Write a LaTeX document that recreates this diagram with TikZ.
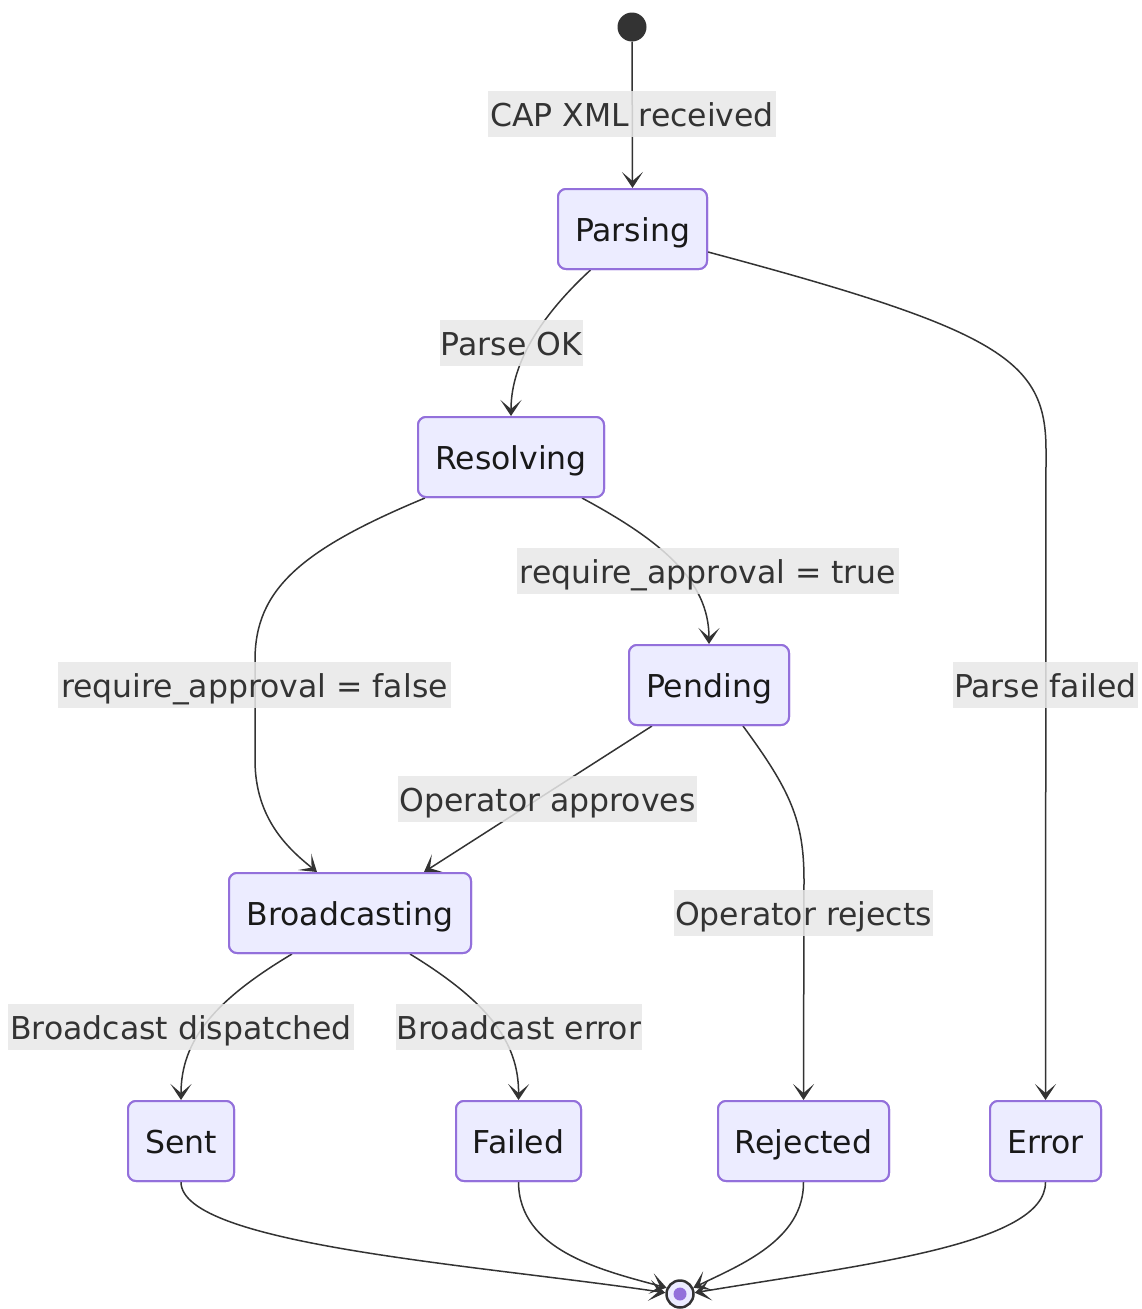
\documentclass[tikz,border=0pt]{standalone}
\usepackage{fontspec}
\setmainfont{DejaVu Sans}
\usetikzlibrary{arrows.meta,calc}
\definecolor{nodefill}{HTML}{ECECFF}
\definecolor{nodeline}{HTML}{9370DB}
\definecolor{edgecol}{HTML}{333333}
\definecolor{lblbg}{HTML}{E8E8E8}
\tikzset{
  state/.style={draw=nodeline, fill=nodefill, line width=2pt, rounded corners=8pt,
    inner sep=0pt, minimum height=80pt, text height=25pt, text depth=0pt,
    text=black!90, font=\fontsize{31.5}{36}\selectfont},
  lbl/.style={fill=lblbg, fill opacity=0.85, text opacity=1, inner sep=0pt,
    minimum height=46pt, text height=25pt, text depth=0pt,
    text=edgecol, font=\fontsize{31.5}{36}\selectfont},
  edge/.style={draw=edgecol, line width=1.5pt,
    -{Stealth[length=16pt,width=21pt,inset=9pt]}},
}
\begin{document}
\begin{tikzpicture}[x=1pt,y=-1pt]
\useasboundingbox (0,0) rectangle (1141,1309);
% nodes
\node[circle, fill=edgecol, minimum size=29pt, inner sep=0pt] (start) at (632,27) {};
\node[state, minimum width=149pt] (parsing) at (632.5,229) {Parsing};
\node[state, minimum width=186pt] (resolving) at (511,457) {Resolving};
\node[state, minimum width=160pt] (pending) at (709,685) {Pending};
\node[state, minimum width=242pt] (broad) at (350,913) {Broadcasting};
\node[state, minimum width=106pt] (sent) at (181,1141) {Sent};
\node[state, minimum width=125pt] (failed) at (518.5,1141) {Failed};
\node[state, minimum width=171pt] (rejected) at (803.5,1141) {Rejected};
\node[state, minimum width=111pt] (error) at (1045.5,1141) {Error};
\node[circle, draw=edgecol, line width=2.5pt, fill=nodefill, minimum size=27pt, inner sep=0pt] (endst) at (680,1294) {};
\node[circle, fill=nodeline, minimum size=13pt, inner sep=0pt] at (endst) {};
% edges
\draw[edge] (start) -- (parsing.north);
\draw[edge] ($(parsing.south)+(-42,0)$) .. controls (545,312) and (511,360) .. (resolving.north);
\draw[edge] ($(parsing.east)+(0,23)$) .. controls (1000,330) and (1046,360) .. (1046,450) -- (error.north);
\draw[edge] ($(resolving.south)+(71,0)$) .. controls (660,540) and (709,580) .. (pending.north);
\draw[edge] ($(resolving.south)+(-86,0)$) .. controls (300,550) and (255,590) .. (255,660) -- (255,760) .. controls (255,820) and (290,850) .. ($(broad.north)+(-33,0)$);
\draw[edge] ($(pending.south)+(-57,0)$) -- ($(broad.north)+(74,0)$);
\draw[edge] ($(pending.south)+(34,0)$) .. controls (790,790) and (804,820) .. (804,880) -- (rejected.north);
\draw[edge] ($(broad.south)+(-58,0)$) .. controls (215,1000) and (181,1040) .. (sent.north);
\draw[edge] ($(broad.south)+(60,0)$) .. controls (485,1000) and (519,1040) .. (failed.north);
\draw[edge] (sent.south) .. controls (181,1245) and (480,1265) .. (endst.175);
\draw[edge] (failed.south) .. controls (519,1250) and (600,1270) .. (endst.155);
\draw[edge] (rejected.south) .. controls (804,1240) and (740,1265) .. (endst.25);
\draw[edge] (error.south) .. controls (1046,1245) and (860,1265) .. (endst.5);
% labels
\node[lbl, minimum width=288pt] (l1) at (632,114) {CAP XML received};
\node[lbl, minimum width=143pt] (l2) at (511.5,343) {Parse OK};
\node[lbl, minimum width=382pt] (l3) at (708,571) {require\_approval = true};
\node[lbl, minimum width=393pt] (l4) at (254.5,685) {require\_approval = false};
\node[lbl, minimum width=185pt] (l5) at (1045.5,685) {Parse failed};
\node[lbl, minimum width=299pt] (l6) at (547.5,799) {Operator approves};
\node[lbl, minimum width=259pt] (l7) at (803.5,913) {Operator rejects};
\node[lbl, minimum width=346pt] (l8) at (181,1027) {Broadcast dispatched};
\node[lbl, minimum width=246pt] (l9) at (519,1027) {Broadcast error};
% redraw nodes on top of edges
\node[state, minimum width=149pt] at (parsing) {Parsing};
\node[state, minimum width=186pt] at (resolving) {Resolving};
\node[state, minimum width=160pt] at (pending) {Pending};
\node[state, minimum width=242pt] at (broad) {Broadcasting};
\node[state, minimum width=106pt] at (sent) {Sent};
\node[state, minimum width=125pt] at (failed) {Failed};
\node[state, minimum width=171pt] at (rejected) {Rejected};
\node[state, minimum width=111pt] at (error) {Error};
\end{tikzpicture}
\end{document}
